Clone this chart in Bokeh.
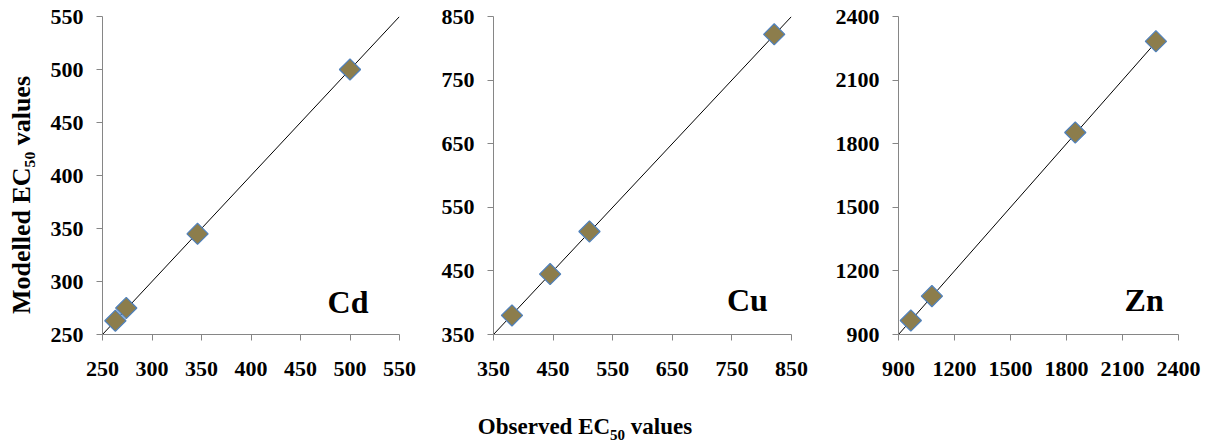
import math
from bokeh.plotting import figure
from bokeh.models import Range1d, FixedTicker, Label, Div, ColumnDataSource
from bokeh.layouts import row, column
from bokeh.embed import file_html
from bokeh.resources import INLINE

# ---- data ----
metals = ["Cd", "Cu", "Zn"]
cd_obs = [263, 274, 346, 500]
cd_mod = [263, 275, 345, 500]
cu_obs = [381, 445, 511, 821]
cu_mod = [380, 445, 512, 822]
zn_obs = [966, 1079, 1847, 2279]
zn_mod = [966, 1081, 1853, 2283]
cd_ticks = [250, 300, 350, 400, 450, 500, 550]
cu_ticks = [350, 450, 550, 650, 750, 850]
zn_ticks = [900, 1200, 1500, 1800, 2100, 2400]
cd_line = [250, 550]
cu_line = [350, 850]
zn_line = [900, 2300]
y_title = "Modelled EC\u2085\u2080 values"

FONT = "Liberation Serif"
AXIS_GRAY = "#868686"


def make(obs, mod, ticks, line, name, name_pos, width, bl, br, ylabel=None):
    p = figure(width=width, height=390, output_backend="svg", toolbar_location=None,
               x_range=Range1d(ticks[0], ticks[-1]), y_range=Range1d(ticks[0], ticks[-1]),
               min_border_left=bl, min_border_right=br, min_border_top=16, min_border_bottom=56)
    p.outline_line_color = None
    p.xgrid.visible = False
    p.ygrid.visible = False
    p.background_fill_color = "white"
    p.border_fill_color = "white"
    p.line(line, line, line_color="black", line_width=1)
    src = ColumnDataSource(dict(x=obs, y=mod))
    p.scatter("x", "y", source=src, marker="square", size=15, angle=math.pi / 4,
              fill_color="#8C7D4C", line_color="#4F81BD", line_width=1.2)
    for ax, t in ((p.xaxis[0], ticks), (p.yaxis[0], ticks)):
        ax.ticker = FixedTicker(ticks=t)
        ax.axis_line_color = AXIS_GRAY
        ax.major_tick_line_color = AXIS_GRAY
        ax.major_tick_out = 6
        ax.major_tick_in = 0
        ax.minor_tick_line_color = None
        ax.major_label_text_font = FONT
        ax.major_label_text_font_style = "bold"
        ax.major_label_text_font_size = "22px"
        ax.major_label_text_color = "black"
    p.yaxis.major_label_standoff = 13
    p.xaxis.major_label_standoff = 21
    if ylabel:
        # trailing no-break spaces nudge the centred title slightly downward
        p.yaxis.axis_label = ylabel + "\u00a0" * 6
        p.yaxis.axis_label_text_font = FONT
        p.yaxis.axis_label_text_font_style = "bold"
        p.yaxis.axis_label_text_font_size = "26px"
        p.yaxis.axis_label_text_color = "black"
        p.yaxis.axis_label_standoff = 12
    p.add_layout(Label(x=name_pos[0], y=name_pos[1], text=name, text_font=FONT,
                       text_font_style="bold", text_font_size="32px", text_align="center",
                       text_baseline="alphabetic", text_color="black"))
    return p


p1 = make(cd_obs, cd_mod, cd_ticks, cd_line, metals[0], (498, 281), 430, 102, 31, ylabel=y_title)
p2 = make(cu_obs, cu_mod, cu_ticks, cu_line, metals[1], (776, 405), 390, 63, 29)
p3 = make(zn_obs, zn_mod, zn_ticks, zn_line, metals[2], (2216, 1065), 386, 78, 28)

xlabel = Div(text='<div style="width:1160px;text-align:center;padding-top:16px;'
                  'font-family:\'Liberation Serif\';font-weight:bold;font-size:23px;color:black;">'
                  'Observed EC<sub style="font-size:15px">50</sub> values</div>',
             width=1206, height=44)

layout = column(row(p1, p2, p3), xlabel)
open("out.html", "w").write(file_html(layout, INLINE))
